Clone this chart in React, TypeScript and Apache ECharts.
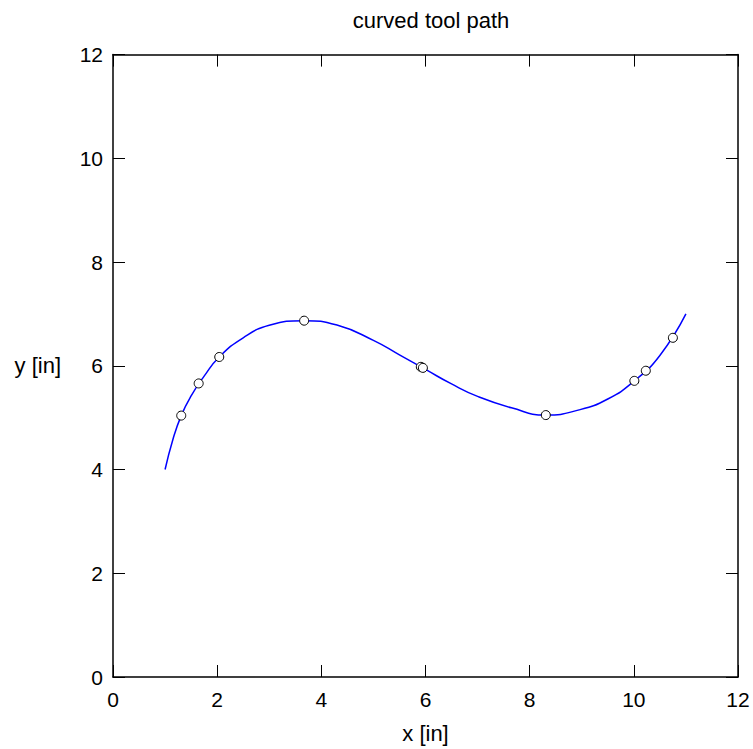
import React, { useEffect, useRef } from "react";
import * as echarts from "echarts";

// Smooth tool path curve (x [in], y [in])
const curveX = [1.0, 1.15, 1.31, 1.5, 1.75, 2.04, 2.5, 3.0, 3.67, 4.3, 5.0, 5.5, 6.0, 6.5, 7.0, 7.65, 8.31, 8.95, 9.5, 10.0, 10.5, 11.0];
const curveY = [4.0, 4.58, 5.04, 5.42, 5.8, 6.17, 6.54, 6.78, 6.87, 6.785, 6.49, 6.21, 5.93, 5.65, 5.41, 5.19, 5.05, 5.15, 5.36, 5.7, 6.2, 7.0];

// Sampled points (circles)
const pointX = [1.31, 1.645, 2.04, 3.67, 5.91, 5.95, 8.31, 10.01, 10.23, 10.75];
const pointY = [5.04, 5.66, 6.17, 6.87, 5.98, 5.96, 5.05, 5.71, 5.905, 6.54];

const xTicks = [0, 2, 4, 6, 8, 10, 12];
const yTicks = [0, 2, 4, 6, 8, 10, 12];

const FONT = "'Liberation Sans', Arial, Helvetica, sans-serif";

export default function App() {
  const ref = useRef<HTMLDivElement>(null);
  useEffect(() => {
    if (!ref.current) return;
    const chart = echarts.init(ref.current, null, { renderer: "svg" });
    const axisCommon = {
      type: "value" as const,
      min: xTicks[0],
      max: xTicks[xTicks.length - 1],
      interval: 2,
      splitLine: { show: false },
      axisLine: { show: true, onZero: false, lineStyle: { color: "#000", width: 1.5 } },
      axisTick: { show: true, inside: true, length: 12, lineStyle: { color: "#000", width: 1 } },
    };
    chart.setOption({
      animation: false,
      backgroundColor: "#fff",
      textStyle: { fontFamily: FONT },
      title: {
        text: "curved tool path",
        left: 426,
        textAlign: "center",
        top: 4,
        textStyle: { fontFamily: FONT, fontSize: 22, fontWeight: "normal", color: "#000" },
      },
      grid: { left: 113, right: 15, top: 54.6, bottom: 69, containLabel: false },
      xAxis: [
        {
          ...axisCommon,
          position: "bottom",
          name: "x [in]",
          nameLocation: "middle",
          nameGap: 45,
          nameTextStyle: { fontFamily: FONT, fontSize: 22, color: "#000" },
          axisLabel: { show: true, margin: 12, fontFamily: FONT, fontSize: 21, color: "#000", formatter: (v: number) => (xTicks.includes(v) ? String(v) : "") },
        },
        {
          ...axisCommon,
          position: "top",
          axisLabel: { show: false },
        },
      ],
      yAxis: [
        {
          ...axisCommon,
          min: yTicks[0],
          max: yTicks[yTicks.length - 1],
          position: "left",
          name: "y [in]",
          nameLocation: "middle",
          nameRotate: 0,
          nameGap: 52,
          nameTextStyle: { fontFamily: FONT, fontSize: 22, color: "#000", align: "right" },
          axisLabel: { show: true, margin: 10, fontFamily: FONT, fontSize: 21, color: "#000", formatter: (v: number) => (yTicks.includes(v) ? String(v) : "") },
        },
        {
          ...axisCommon,
          min: yTicks[0],
          max: yTicks[yTicks.length - 1],
          position: "right",
          axisLabel: { show: false },
        },
      ],
      series: [
        {
          type: "line",
          xAxisIndex: 0,
          yAxisIndex: 0,
          data: curveX.map((x, i) => [x, curveY[i]]),
          smooth: 0.5,
          showSymbol: false,
          symbol: "none",
          lineStyle: { color: "#0000ff", width: 1.5 },
          z: 2,
        },
        {
          type: "scatter",
          xAxisIndex: 0,
          yAxisIndex: 0,
          data: pointX.map((x, i) => [x, pointY[i]]),
          symbol: "circle",
          symbolSize: 9,
          itemStyle: { color: "#fff", borderColor: "#000", borderWidth: 1, opacity: 1 },
          z: 3,
        },
      ],
    });
    return () => chart.dispose();
  }, []);
  return <div ref={ref} style={{ width: 753, height: 749, position: "absolute", left: 0, top: 0 }} />;
}
